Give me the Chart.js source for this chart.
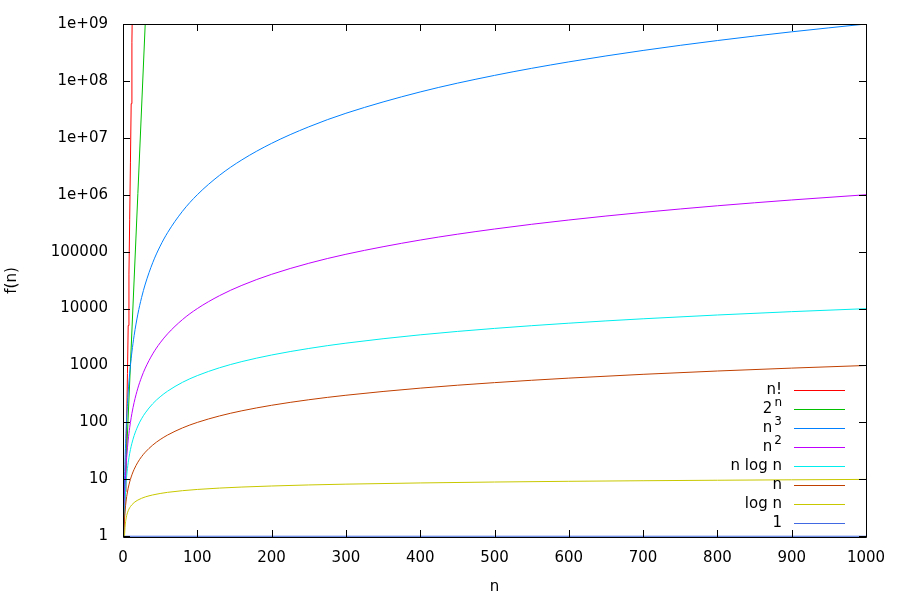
<!DOCTYPE html>
<html lang="en">
<head>
  <meta charset="UTF-8">
  <title>f(n)</title>
  <script src="https://cdn.jsdelivr.net/npm/chart.js"></script>
  <style>
    html, body { margin: 0; padding: 0; background: #fff; }
    #wrap { width: 900px; height: 600px; }
  </style>
</head>
<body>
<div id="wrap"><canvas id="chart" width="900" height="600"></canvas></div>

<script>
  // Значения
  const seriesLabels = ['n!', '2^n', 'n^3', 'n^2', 'n log n', 'n', 'log n', '1'];
  const seriesColors = ['#ff0000', '#00c000', '#0080ff', '#c000ff', '#00eeee', '#c04000', '#c8c800', '#4169e1'];

  const nFact = [0, 1, 2, 3, 4, 5, 6, 7, 8, 9, 10, 11, 12, 13];
  const factValues = [1, 1, 2, 6, 24, 120, 720, 5040, 40320, 362880, 3628800, 39916800, 479001600, 6227020800];

  const nExp = [0, 10, 20, 30, 35];
  const expValues = [1, 1024, 1048576, 1073741824, 34359738368];

  const nSmooth = [1, 2, 3, 4, 5, 6, 8, 10, 12, 15, 20, 25, 30, 40, 50, 60, 80, 100, 130, 160, 200, 250, 300, 400, 500, 600, 700, 800, 900, 1000];
  const cubeValues = [1, 8, 27, 64, 125, 216, 512, 1000, 1728, 3375, 8000, 15600, 27000, 64000, 125000, 216000, 512000,
    1.0e6, 2.2e6, 4.1e6, 8.0e6, 1.56e7, 2.7e7, 6.4e7, 1.25e8, 2.16e8, 3.43e8, 5.12e8, 7.29e8, 1.0e9];
  const squareValues = [1, 4, 9, 16, 25, 36, 64, 100, 144, 225, 400, 625, 900, 1600, 2500, 3600, 6400,
    10000, 16900, 25600, 40000, 62500, 90000, 160000, 250000, 360000, 490000, 640000, 810000, 1000000];
  const nlognValues = [null, 2, 4.75, 8, 11.6, 15.5, 24, 33.2, 43, 58.6, 86.4, 116, 147, 213, 282, 354, 506,
    664, 913, 1172, 1529, 1991, 2469, 3458, 4483, 5537, 6616, 7715, 8832, 9966];
  const linearValues = [1, 2, 3, 4, 5, 6, 8, 10, 12, 15, 20, 25, 30, 40, 50, 60, 80, 100, 130, 160, 200, 250, 300,
    400, 500, 600, 700, 800, 900, 1000];
  const logValues = [null, 1, 1.58, 2, 2.32, 2.58, 3, 3.32, 3.58, 3.91, 4.32, 4.64, 4.91, 5.32, 5.64, 5.91, 6.32,
    6.64, 7.02, 7.32, 7.64, 7.97, 8.23, 8.64, 8.97, 9.23, 9.45, 9.64, 9.81, 9.97];
  const nConst = [0, 1000];
  const constValues = [1, 1];

  const xTicks = [0, 100, 200, 300, 400, 500, 600, 700, 800, 900, 1000];
  const xTickLabels = ['0', '100', '200', '300', '400', '500', '600', '700', '800', '900', '1000'];
  const yTicks = [1, 10, 100, 1000, 10000, 100000, 1e6, 1e7, 1e8, 1e9];
  const yTickLabels = ['1', '10', '100', '1000', '10000', '100000', '1e+06', '1e+07', '1e+08', '1e+09'];

  const toPoints = (xs, ys) => xs.map((x, i) => ({ x: x, y: ys[i] })).filter(p => p.y !== null);

  const FONT = { family: 'DejaVu Sans', size: 15 };

  // Рамка с засечками внутрь, как в gnuplot
  const framePlugin = {
    id: 'frame',
    afterDatasetsDraw(chart) {
      const { ctx, chartArea: a, scales } = chart;
      const len = 7;
      ctx.save();
      ctx.strokeStyle = '#000';
      ctx.lineWidth = 1;
      ctx.beginPath();
      ctx.rect(a.left + 0.5, a.top + 0.5, a.right - a.left, a.bottom - a.top);
      xTicks.forEach(v => {
        const px = Math.round(scales.x.getPixelForValue(v)) + 0.5;
        ctx.moveTo(px, a.bottom); ctx.lineTo(px, a.bottom - len);
        ctx.moveTo(px, a.top); ctx.lineTo(px, a.top + len);
      });
      yTicks.forEach(v => {
        const py = Math.round(scales.y.getPixelForValue(v)) + 0.5;
        ctx.moveTo(a.left, py); ctx.lineTo(a.left + len, py);
        ctx.moveTo(a.right, py); ctx.lineTo(a.right - len, py);
      });
      ctx.stroke();
      ctx.restore();
    }
  };

  // Легенда справа внизу: текст по правому краю, затем образец линии
  const keyPlugin = {
    id: 'key',
    afterDatasetsDraw(chart) {
      const { ctx } = chart;
      const textRight = 782, lineFrom = 794, lineTo = 845, top = 390, step = 19;
      const mainFont = `${FONT.size}px "${FONT.family}"`;
      const supFont = `12px "${FONT.family}"`;
      ctx.save();
      ctx.textBaseline = 'middle';
      chart.data.datasets.forEach((ds, i) => {
        const y = top + i * step;
        ctx.fillStyle = '#000';
        const parts = ds.label.split('^');
        if (parts.length === 2) {
          ctx.font = supFont;
          const supW = ctx.measureText(parts[1]).width;
          ctx.textAlign = 'right';
          ctx.fillText(parts[1], textRight, y - 6);
          ctx.font = mainFont;
          ctx.fillText(parts[0], textRight - supW - 2, y);
        } else {
          ctx.font = mainFont;
          ctx.textAlign = 'right';
          ctx.fillText(ds.label, textRight, y);
        }
        ctx.strokeStyle = ds.borderColor;
        ctx.lineWidth = 1;
        ctx.beginPath();
        ctx.moveTo(lineFrom, Math.round(y) + 0.5);
        ctx.lineTo(lineTo, Math.round(y) + 0.5);
        ctx.stroke();
      });
      ctx.restore();
    }
  };

  const seriesData = [
    toPoints(nFact, factValues),
    toPoints(nExp, expValues),
    toPoints(nSmooth, cubeValues),
    toPoints(nSmooth, squareValues),
    toPoints(nSmooth, nlognValues),
    toPoints(nSmooth, linearValues),
    toPoints(nSmooth, logValues),
    toPoints(nConst, constValues)
  ];
  const smooth = [false, false, true, true, true, true, true, false];

  const datasets = seriesLabels.map((label, i) => ({
    label: label,
    data: seriesData[i],
    borderColor: seriesColors[i],
    backgroundColor: seriesColors[i],
    borderWidth: 1,
    pointRadius: 0,
    fill: false,
    cubicInterpolationMode: smooth[i] ? 'monotone' : 'default',
    tension: 0,
    order: 7 - i
  }));

  Chart.defaults.font.family = FONT.family;
  Chart.defaults.font.size = FONT.size;
  Chart.defaults.color = '#000';

  new Chart(document.getElementById('chart'), {
    type: 'line',
    data: { datasets: datasets },
    options: {
      responsive: false,
      animation: false,
      parsing: false,
      layout: { padding: { top: 21, right: 34, left: 0, bottom: 0 } },
      plugins: {
        legend: { display: false },
        tooltip: { enabled: false }
      },
      scales: {
        x: {
          type: 'linear',
          min: 0,
          max: 1000,
          afterBuildTicks: s => { s.ticks = xTicks.map(v => ({ value: v })); },
          afterFit: s => { s.height = 63; },
          grid: { drawOnChartArea: false, drawTicks: false },
          border: { display: false },
          ticks: {
            padding: 12,
            maxRotation: 0,
            autoSkip: false,
            callback: v => { const i = xTicks.indexOf(v); return i >= 0 ? xTickLabels[i] : ''; }
          },
          title: { display: true, text: 'n', padding: { top: 0, bottom: 4 } }
        },
        y: {
          type: 'logarithmic',
          min: 0.97,
          max: 1e9,
          afterBuildTicks: s => { s.ticks = yTicks.map(v => ({ value: v })); },
          afterFit: s => { s.width = 123; },
          grid: { drawOnChartArea: false, drawTicks: false },
          border: { display: false },
          ticks: {
            padding: 15,
            autoSkip: false,
            callback: v => { const i = yTicks.indexOf(v); return i >= 0 ? yTickLabels[i] : ''; }
          },
          title: { display: true, text: 'f(n)', padding: { top: 3, bottom: 0 } }
        }
      }
    },
    plugins: [framePlugin, keyPlugin]
  });
</script>
</body>
</html>
